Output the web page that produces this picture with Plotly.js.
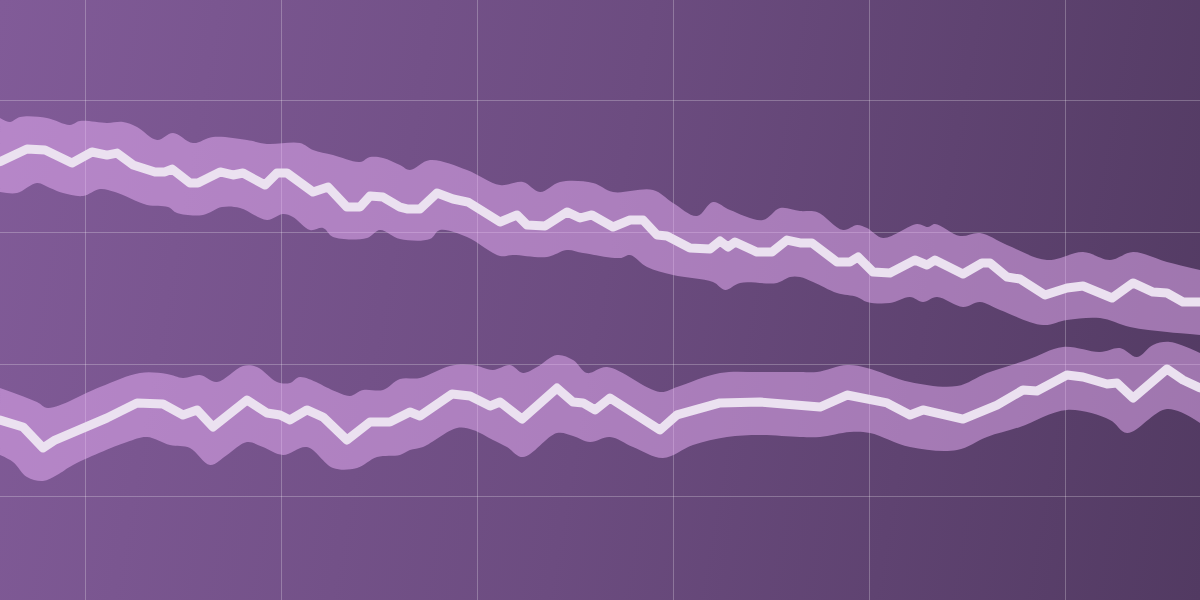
<!DOCTYPE html>
<html>
<head>
<meta charset="utf-8">
<script src="https://cdn.plot.ly/plotly-3.0.1.min.js"></script>
<style>
  html, body { margin: 0; padding: 0; width: 1200px; height: 600px; overflow: hidden; }
  #chart { width: 1200px; height: 600px; background: linear-gradient(100deg, #815b98 0%, #6c4c80 50%, #523a62 100%); }
  #chart path.js-line { stroke-linejoin: round !important; stroke-linecap: round !important; }
</style>
</head>
<body>
<div id="chart"></div>
<script>
// Upper series (centre line)
const upperX = [-8.67,-5.92,-4.08,-1.33,0.71,2.24,3.27,4.90,7.14,8.16,8.88,10.71,11.53,13.78,15.10,16.12,18.37,19.59,20.61,23.27,24.80,26.73,28.06,29.08,30.41,32.14,32.96,34.18,35.92,37.55,39.08,42.35,44.08,45.10,46.94,49.18,50.51,51.73,53.88,55.61,56.94,58.37,59.39,61.73,63.78,64.80,65.61,66.33,68.57,70.10,71.63,72.96,74.18,76.73,78.06,78.88,80.41,82.14,84.69,85.92,86.73,89.59,91.53,92.35,94.08,95.41,97.96,100.20,101.84,104.80,106.94,108.98,110.41,112.04,113.78];
const upperY = [25.33,26.29,26.21,25.23,26.06,25.83,25.98,25.08,24.55,24.55,24.77,23.71,23.71,24.55,24.32,24.47,23.56,24.47,24.47,23.03,23.41,21.89,21.89,22.73,22.65,21.89,21.74,21.74,22.95,22.50,22.27,20.76,21.29,20.53,20.45,21.52,21.06,21.29,20.38,20.91,20.91,19.77,19.70,18.79,18.71,19.32,18.86,19.24,18.48,18.48,19.39,19.17,19.17,17.73,17.73,18.11,16.97,16.89,17.88,17.50,17.88,16.82,17.65,17.65,16.59,16.44,15.23,15.76,15.91,15.00,16.14,15.45,15.38,14.70,14.70];
// Upper series band (high edge)
const upperHiX = [-8.67,-7.65,-6.63,-3.88,-1.53,-0.51,2.24,3.88,5.31,7.35,8.98,11.02,13.06,16.53,18.57,21.94,23.27,25.31,28.06,29.08,30.41,32.14,33.16,35.20,38.98,42.35,44.69,46.43,48.47,51.84,53.88,57.96,60.00,62.45,64.08,65.82,69.18,70.92,72.96,74.69,77.35,78.78,79.80,81.43,84.90,86.02,86.73,89.29,91.33,94.08,98.16,101.84,104.59,106.94,110.41,113.78];
const upperHiY = [28.64,28.33,28.71,28.64,28.11,28.41,28.26,28.33,27.95,26.97,27.50,26.74,27.20,26.97,26.67,26.74,26.21,25.83,25.30,25.68,25.61,25.08,24.70,25.45,24.70,23.56,23.79,23.03,23.79,23.71,23.03,23.18,22.20,21.21,22.27,21.67,20.91,21.82,21.59,21.52,20.15,20.53,20.30,19.55,20.61,20.38,20.61,19.70,19.92,19.02,17.88,18.48,17.88,18.48,17.73,17.12];
// Upper series band (low edge)
const upperLoX = [-8.67,-6.94,-4.90,-3.57,-2.24,-0.20,1.53,3.06,6.33,8.47,9.39,12.04,13.98,15.82,18.57,20.20,21.22,22.96,24.29,25.31,28.78,30.10,32.14,35.20,36.22,38.98,42.35,43.67,47.14,49.18,50.82,54.59,55.61,57.35,60.00,64.08,65.31,66.84,70.61,71.94,72.96,74.29,76.73,78.78,79.80,82.14,84.18,85.51,86.94,89.59,91.33,93.37,97.76,100.20,103.57,106.63,110.41,113.78];
const upperLoY = [23.03,22.95,23.71,23.33,22.95,22.73,23.26,23.03,22.05,21.89,21.44,21.29,21.89,21.82,20.91,21.36,21.14,20.15,20.30,19.62,19.55,20.15,19.47,19.47,20.15,19.62,18.18,18.26,18.11,18.64,18.41,18.03,18.26,17.35,16.74,16.21,15.61,16.14,16.14,16.59,16.59,16.21,15.38,15.08,14.70,14.62,15.08,14.70,15.08,14.32,14.70,14.09,12.95,13.33,13.48,12.80,12.42,12.20];

// Lower series (centre line)
const lowerX = [-8.67,-6.33,-4.29,-3.06,2.24,5.31,7.96,10.00,11.43,13.06,16.53,18.57,19.90,20.92,22.65,24.29,26.73,29.08,31.12,32.14,33.16,34.18,37.45,39.29,41.33,42.35,44.59,48.16,49.80,50.82,52.04,53.57,58.67,60.41,64.80,68.88,72.96,75.00,77.76,81.84,84.18,85.51,89.59,93.06,95.71,97.14,100.20,101.84,104.29,105.31,106.94,110.41,112.04,113.78];
const lowerY = [5.76,5.23,3.64,4.24,5.91,7.05,6.97,6.14,6.52,5.23,7.27,6.29,6.14,5.76,6.52,5.98,4.24,5.61,5.61,5.98,6.36,6.06,7.73,7.58,6.82,7.12,5.83,8.18,7.12,7.05,6.52,7.42,5.00,6.14,7.05,7.12,6.89,6.74,7.65,7.05,6.14,6.52,5.83,6.89,8.03,7.95,9.17,9.02,8.48,8.56,7.42,9.62,8.79,8.18];
// Lower series band (high edge)
const lowerHiX = [-8.67,-4.90,-3.78,1.53,5.61,8.37,10.00,11.73,13.47,16.12,17.55,19.59,20.92,21.94,25.71,27.04,28.37,30.41,32.14,34.18,37.24,39.59,41.63,43.37,44.69,46.12,48.16,49.80,51.22,53.27,58.67,60.41,64.80,68.88,72.96,74.69,77.76,79.80,84.18,88.98,92.04,96.12,99.80,103.57,105.61,107.35,108.98,110.71,113.78];
const lowerHiY = [8.18,7.12,6.67,8.26,9.32,9.24,8.94,9.17,8.64,9.85,9.77,8.64,8.56,9.02,7.88,7.58,8.03,8.03,8.86,8.94,9.85,9.92,9.55,9.92,9.32,9.77,10.68,10.30,9.32,9.77,7.88,8.26,9.32,9.39,9.39,9.39,9.92,9.70,8.64,8.33,9.32,10.30,11.29,10.91,11.21,10.53,11.44,11.67,10.83];
// Lower series band (low edge)
const lowerLoX = [-8.67,-7.35,-5.92,-4.29,-2.86,-1.22,4.29,6.33,8.67,10.71,12.76,14.49,16.53,18.16,20.20,22.65,25.31,27.76,29.80,32.14,33.16,34.49,37.96,39.59,41.63,43.06,44.69,48.16,49.80,51.53,53.57,55.92,58.98,62.04,65.51,68.88,72.96,75.00,78.06,80.10,84.18,88.98,92.04,95.41,100.20,104.59,106.33,110.41,113.78];
const lowerLoY = [3.11,2.58,1.44,1.14,1.59,2.35,4.09,4.47,3.86,3.64,2.35,3.11,4.09,3.71,3.11,3.71,2.12,2.12,2.95,3.11,3.48,3.71,5.15,5.00,4.24,3.71,2.95,4.77,4.55,4.09,4.47,3.71,2.88,3.86,4.47,4.62,4.47,4.47,4.85,4.77,3.71,3.48,4.47,5.23,6.52,5.76,4.77,6.59,5.53];

const bandFill = 'rgba(236,178,250,0.5)';
const lineColor = '#ebe1f0';

function bandTraces(loX, loY, hiX, hiY) {
  return [
    { x: loX, y: loY, type: 'scatter', mode: 'lines', line: { width: 0, shape: 'spline', smoothing: 1, color: 'rgba(0,0,0,0)' }, hoverinfo: 'skip', showlegend: false },
    { x: hiX, y: hiY, type: 'scatter', mode: 'lines', fill: 'tonexty', fillcolor: bandFill, line: { width: 0, shape: 'spline', smoothing: 1, color: 'rgba(0,0,0,0)' }, hoverinfo: 'skip', showlegend: false }
  ];
}

const traces = [
  ...bandTraces(upperLoX, upperLoY, upperHiX, upperHiY),
  ...bandTraces(lowerLoX, lowerLoY, lowerHiX, lowerHiY),
  { x: upperX, y: upperY, type: 'scatter', mode: 'lines', line: { color: lineColor, width: 9 }, showlegend: false },
  { x: lowerX, y: lowerY, type: 'scatter', mode: 'lines', line: { color: lineColor, width: 9 }, showlegend: false }
];

const gridColor = 'rgba(255,255,255,0.25)';
const layout = {
  width: 1200, height: 600,
  margin: { l: 0, r: 0, t: 0, b: 0, pad: 0 },
  paper_bgcolor: 'rgba(0,0,0,0)',
  plot_bgcolor: 'rgba(0,0,0,0)',
  showlegend: false,
  xaxis: { range: [-8.673, 113.776], tick0: 0, dtick: 20, showgrid: true, gridcolor: gridColor, gridwidth: 1, zeroline: false, showticklabels: false, ticks: '', showline: false, fixedrange: true },
  yaxis: { range: [-7.879, 37.576], tick0: 0, dtick: 10, showgrid: true, gridcolor: gridColor, gridwidth: 1, zeroline: false, showticklabels: false, ticks: '', showline: false, fixedrange: true }
};

Plotly.newPlot('chart', traces, layout, { displayModeBar: false, staticPlot: true }).then(function () {
  document.querySelectorAll('#chart path.js-line').forEach(function (p) {
    p.style.strokeLinejoin = 'round';
    p.style.strokeLinecap = 'round';
  });
});
</script>
</body>
</html>
